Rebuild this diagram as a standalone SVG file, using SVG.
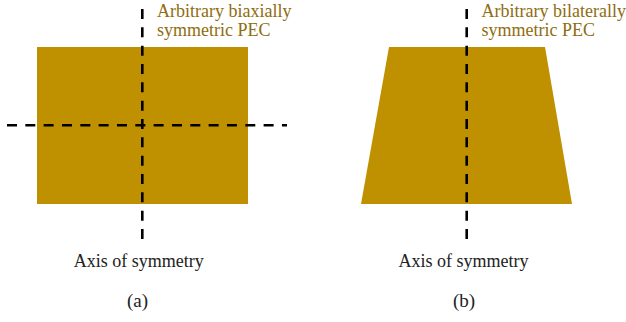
<svg xmlns="http://www.w3.org/2000/svg" width="626" height="322" viewBox="0 0 626 322">
<style>
.shape{fill:#BF9000;stroke:none}
.axis{stroke:#000;stroke-width:2.6;stroke-dasharray:10 8.33;fill:none}
.lbl{font-family:"Liberation Serif","Times New Roman",serif;font-size:18px;fill:#222}
.cap{font-family:"Liberation Serif","Times New Roman",serif;font-size:19px;fill:#222}
.pec{font-family:"Liberation Serif","Times New Roman",serif;font-size:18px;fill:#8F6D0F}
</style>
<rect width="626" height="322" fill="#fff"/>
<g id="shape-a">
<rect class="shape" x="37" y="47" width="211" height="157"/>
</g>
<g id="shape-b">
<polygon class="shape" points="389,47 545,47 572,204 361,204"/>
</g>
<g id="connectors">
<line class="axis" x1="142.3" y1="9" x2="142.3" y2="240"/>
<line class="axis" x1="7" y1="125.3" x2="287" y2="125.3"/>
<line class="axis" x1="466.7" y1="9" x2="466.7" y2="240"/>
</g>
<g id="label-pec-a">
<text class="pec" x="157" y="16.5">Arbitrary biaxially</text>
<text class="pec" x="157" y="36">symmetric PEC</text>
</g>
<g id="label-pec-b">
<text class="pec" x="481.5" y="16.5">Arbitrary bilaterally</text>
<text class="pec" x="481.5" y="36">symmetric PEC</text>
</g>
<g id="label-axis-a">
<text class="lbl" x="138.7" y="267" text-anchor="middle">Axis of symmetry</text>
</g>
<g id="label-axis-b">
<text class="lbl" x="463.5" y="267" text-anchor="middle">Axis of symmetry</text>
</g>
<g id="caption-a">
<text class="cap" x="137.5" y="306.5" text-anchor="middle">(a)</text>
</g>
<g id="caption-b">
<text class="cap" x="464" y="306.5" text-anchor="middle">(b)</text>
</g>
</svg>
